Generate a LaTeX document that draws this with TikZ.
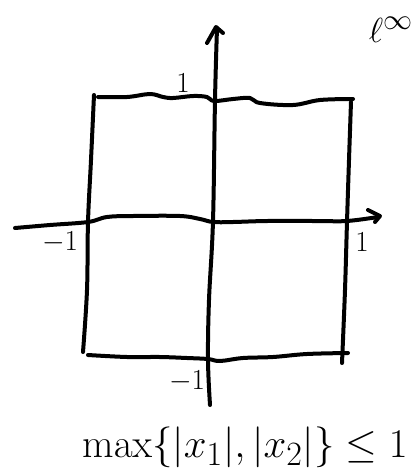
\documentclass[tikz,border=0pt]{standalone}
\usepackage{graphicx}
\usepackage{amsmath}
\begin{document}
\begin{tikzpicture}[x=1pt,y=-1pt,
  ink/.style={line width=4pt, line cap=round, line join=round, black},
  lbl/.style={inner sep=0pt, font=\huge}]
\useasboundingbox (0,0) rectangle (413,475);
% square
\draw[ink] plot[smooth, tension=0.6] coordinates {(98,97) (127,97) (150,94) (163,97) (173,98) (193,96) (207,97) (214,101) (233,99) (250,98) (260,103) (293,105) (320,100) (353,99)};
\draw[ink] plot[smooth, tension=0.6] coordinates {(94,95) (91,160) (88,222) (87,290) (83,352)};
\draw[ink] plot[smooth, tension=0.6] coordinates {(351,102) (349,160) (347,222) (345,290) (342,363)};
\draw[ink] plot[smooth, tension=0.6] coordinates {(88,355) (127,357) (160,357) (187,358) (208,359) (220,361) (243,358) (273,357) (307,354) (348,353)};
% vertical axis
\draw[ink] plot[smooth, tension=0.6] coordinates {(217,28) (215,100) (213,221) (209,300) (208,360) (210,405)};
\draw[ink] (207,43) -- (216,27) -- (223,33);
% horizontal axis
\draw[ink] plot[smooth, tension=0.6] coordinates {(15,228) (50,225) (88,222) (107,217) (133,216) (180,216) (200,219) (213,222) (233,222) (267,221) (317,221) (347,221) (378,217)};
\draw[ink] (368,210) -- (380,216) -- (375,222);
% labels
\node[lbl] (top1) at (183,83) {\scalebox{1.4}{$1$}};
\node[lbl] (left1) at (60,242) {\scalebox{1.4}{$-1$}};
\node[lbl] (right1) at (362,242) {\scalebox{1.4}{$1$}};
\node[lbl] (bot1) at (187,381) {\scalebox{1.4}{$-1$}};
\node[inner sep=0pt, font=\Huge] (linf) at (391,30) {\scalebox{1.4}{$\ell^{\infty}$}};
\node[inner sep=0pt, font=\Huge, anchor=west] (cond) at (82,447) {\scalebox{1.64}{$\max\{|x_1|,|x_2|\}\le 1$}};
\end{tikzpicture}
\end{document}
